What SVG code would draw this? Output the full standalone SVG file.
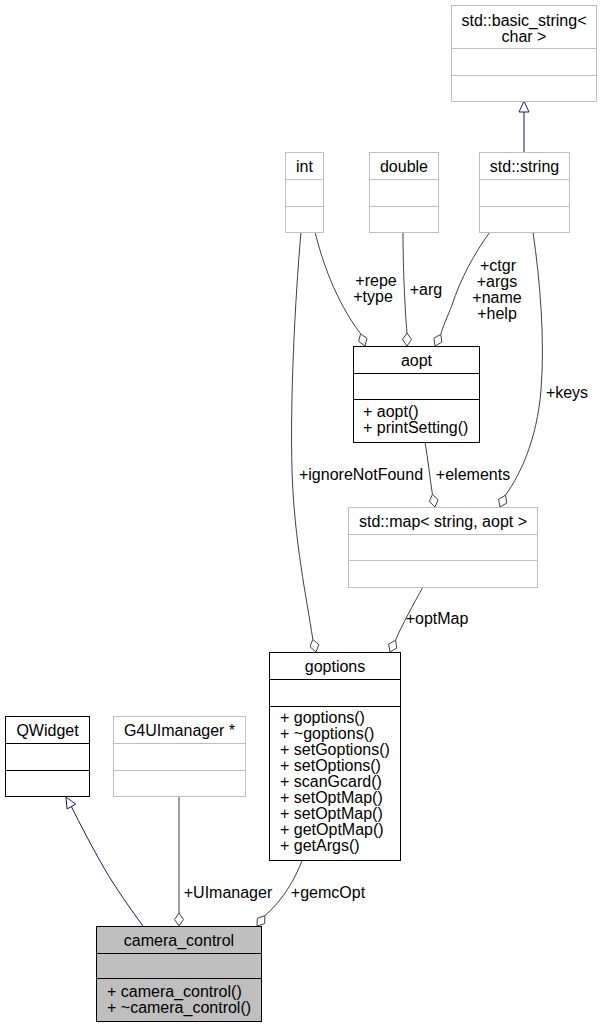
<svg xmlns="http://www.w3.org/2000/svg" width="603" height="1028" viewBox="0 0 603 1028">
<style>
text{font-family:"Liberation Sans",Arial,Helvetica,sans-serif;font-size:16px;fill:#000}
.c{text-anchor:middle}
.box{fill:#fff;stroke:#000;stroke-width:1}
.ext{fill:#fff;stroke:#bfbfbf;stroke-width:1}
.cur{fill:#bfbfbf;stroke:#000;stroke-width:1}
.agg{fill:none;stroke:#404040;stroke-width:1}
.dia{fill:#fff;stroke:#404040;stroke-width:1}
.inh{fill:none;stroke:#191970;stroke-width:1}
.tri{fill:#fff;stroke:#191970;stroke-width:1}
</style>
<rect width="603" height="1028" fill="#fff"/>
<g id="connectors">
  <path class="inh" d="M524,152 L524,112"/>
  <polygon class="tri" points="524,101 529,112 519,112"/>
  <path class="inh" d="M143,926 C132,911 115,887 104,868 C92,847 80,824 71.4,806.6"/>
  <polygon class="tri" points="66,797 75.7,804.1 67,809"/>
  <path class="agg" d="M301,232 C295,300 290,400 292,470 C294,540 307,600 312.8,639.4"/>
  <polygon class="dia" points="316,652 318.8,644.6 312.8,639.4 310,646.8"/>
  <path class="agg" d="M315,232 C322,260 335,300 360.6,333.8"/>
  <polygon class="dia" points="365,346 367,338.4 360.6,333.8 358.6,341.4"/>
  <path class="agg" d="M403,232 C403,270 405,310 407,333"/>
  <polygon class="dia" points="407,346 411.5,339.5 407,333 402.5,339.5"/>
  <path class="agg" d="M490,232 C475,252 460,280 452,305 C447,318 443,326 440.8,334.4"/>
  <polygon class="dia" points="435,346 441.9,342.2 440.8,334.4 433.9,338.2"/>
  <path class="agg" d="M533,232 C540,280 545,340 541,390 C537,440 520,475 505.5,495.2"/>
  <polygon class="dia" points="500,507 506.8,503 505.5,495.2 498.6,499.2"/>
  <path class="agg" d="M425,442 C428,460 430,478 432.4,494.3"/>
  <polygon class="dia" points="435,507 438.1,499.7 432.4,494.3 429.3,501.5"/>
  <path class="agg" d="M423,587 C413,605 402,625 395.5,640.2"/>
  <polygon class="dia" points="390,652 396.8,648 395.5,640.2 388.6,644.2"/>
  <path class="agg" d="M179,797 L179,913"/>
  <polygon class="dia" points="179,926 183.5,919.5 179,913 174.5,919.5"/>
  <path class="agg" d="M302,861 C295,878 285,898 264.9,915.7"/>
  <polygon class="dia" points="257,926 264.6,923.6 264.9,915.7 257.4,918.2"/>
  <text class="c" x="376" y="286">+repe</text>
  <text class="c" x="373" y="302">+type</text>
  <text class="c" x="426" y="295">+arg</text>
  <text class="c" x="498" y="271">+ctgr</text>
  <text class="c" x="497" y="287">+args</text>
  <text class="c" x="497" y="303">+name</text>
  <text class="c" x="497" y="319">+help</text>
  <text class="c" x="567" y="398">+keys</text>
  <text class="c" x="361" y="480">+ignoreNotFound</text>
  <text class="c" x="473" y="480">+elements</text>
  <text class="c" x="437" y="624">+optMap</text>
  <text class="c" x="228" y="898">+UImanager</text>
  <text class="c" x="328" y="898">+gemcOpt</text>
</g>
<g id="basic_string">
  <rect class="ext" x="451.5" y="5.5" width="145" height="96"/>
  <path class="ext" d="M451.5,48.5 H596.5 M451.5,75.5 H596.5"/>
  <text class="c" x="524" y="26">std::basic_string&lt;</text>
  <text class="c" x="524" y="42">char &gt;</text>
</g>
<g id="int">
  <rect class="ext" x="285.5" y="152.5" width="38" height="80"/>
  <path class="ext" d="M285.5,179.5 H323.5 M285.5,206.5 H323.5"/>
  <text class="c" x="304.5" y="172">int</text>
</g>
<g id="double">
  <rect class="ext" x="369.5" y="152.5" width="69" height="80"/>
  <path class="ext" d="M369.5,179.5 H438.5 M369.5,206.5 H438.5"/>
  <text class="c" x="404" y="172">double</text>
</g>
<g id="std_string">
  <rect class="ext" x="479.5" y="152.5" width="90" height="80"/>
  <path class="ext" d="M479.5,179.5 H569.5 M479.5,206.5 H569.5"/>
  <text class="c" x="524.5" y="172">std::string</text>
</g>
<g id="aopt">
  <rect class="box" x="353.5" y="346.5" width="126" height="96"/>
  <path class="box" d="M353.5,373.5 H479.5 M353.5,399.5 H479.5"/>
  <text class="c" x="416.5" y="366">aopt</text>
  <text x="363" y="417">+ aopt()</text>
  <text x="363" y="433">+ printSetting()</text>
</g>
<g id="std_map">
  <rect class="ext" x="348.5" y="507.5" width="189" height="80"/>
  <path class="ext" d="M348.5,534.5 H537.5 M348.5,560.5 H537.5"/>
  <text class="c" x="443" y="527">std::map&lt; string, aopt &gt;</text>
</g>
<g id="goptions">
  <rect class="box" x="269.5" y="652.5" width="131" height="208"/>
  <path class="box" d="M269.5,679.5 H400.5 M269.5,706.5 H400.5"/>
  <text class="c" x="335" y="672">goptions</text>
  <text x="280" y="723">+ goptions()</text>
  <text x="280" y="739">+ ~goptions()</text>
  <text x="280" y="755">+ setGoptions()</text>
  <text x="280" y="771">+ setOptions()</text>
  <text x="280" y="787">+ scanGcard()</text>
  <text x="280" y="803">+ setOptMap()</text>
  <text x="280" y="819">+ setOptMap()</text>
  <text x="280" y="835">+ getOptMap()</text>
  <text x="280" y="851">+ getArgs()</text>
</g>
<g id="QWidget">
  <rect class="box" x="5.5" y="716.5" width="84" height="80"/>
  <path class="box" d="M5.5,743.5 H89.5 M5.5,770.5 H89.5"/>
  <text class="c" x="47.5" y="736">QWidget</text>
</g>
<g id="G4UImanager">
  <rect class="ext" x="113.5" y="716.5" width="132" height="80"/>
  <path class="ext" d="M113.5,743.5 H245.5 M113.5,770.5 H245.5"/>
  <text class="c" x="179.5" y="736">G4UImanager *</text>
</g>
<g id="camera_control">
  <rect class="cur" x="96.5" y="926.5" width="165" height="95"/>
  <path class="cur" d="M96.5,953.5 H261.5 M96.5,978.5 H261.5"/>
  <text class="c" x="179" y="946">camera_control</text>
  <text x="107" y="997">+ camera_control()</text>
  <text x="107" y="1013">+ ~camera_control()</text>
</g>
</svg>
